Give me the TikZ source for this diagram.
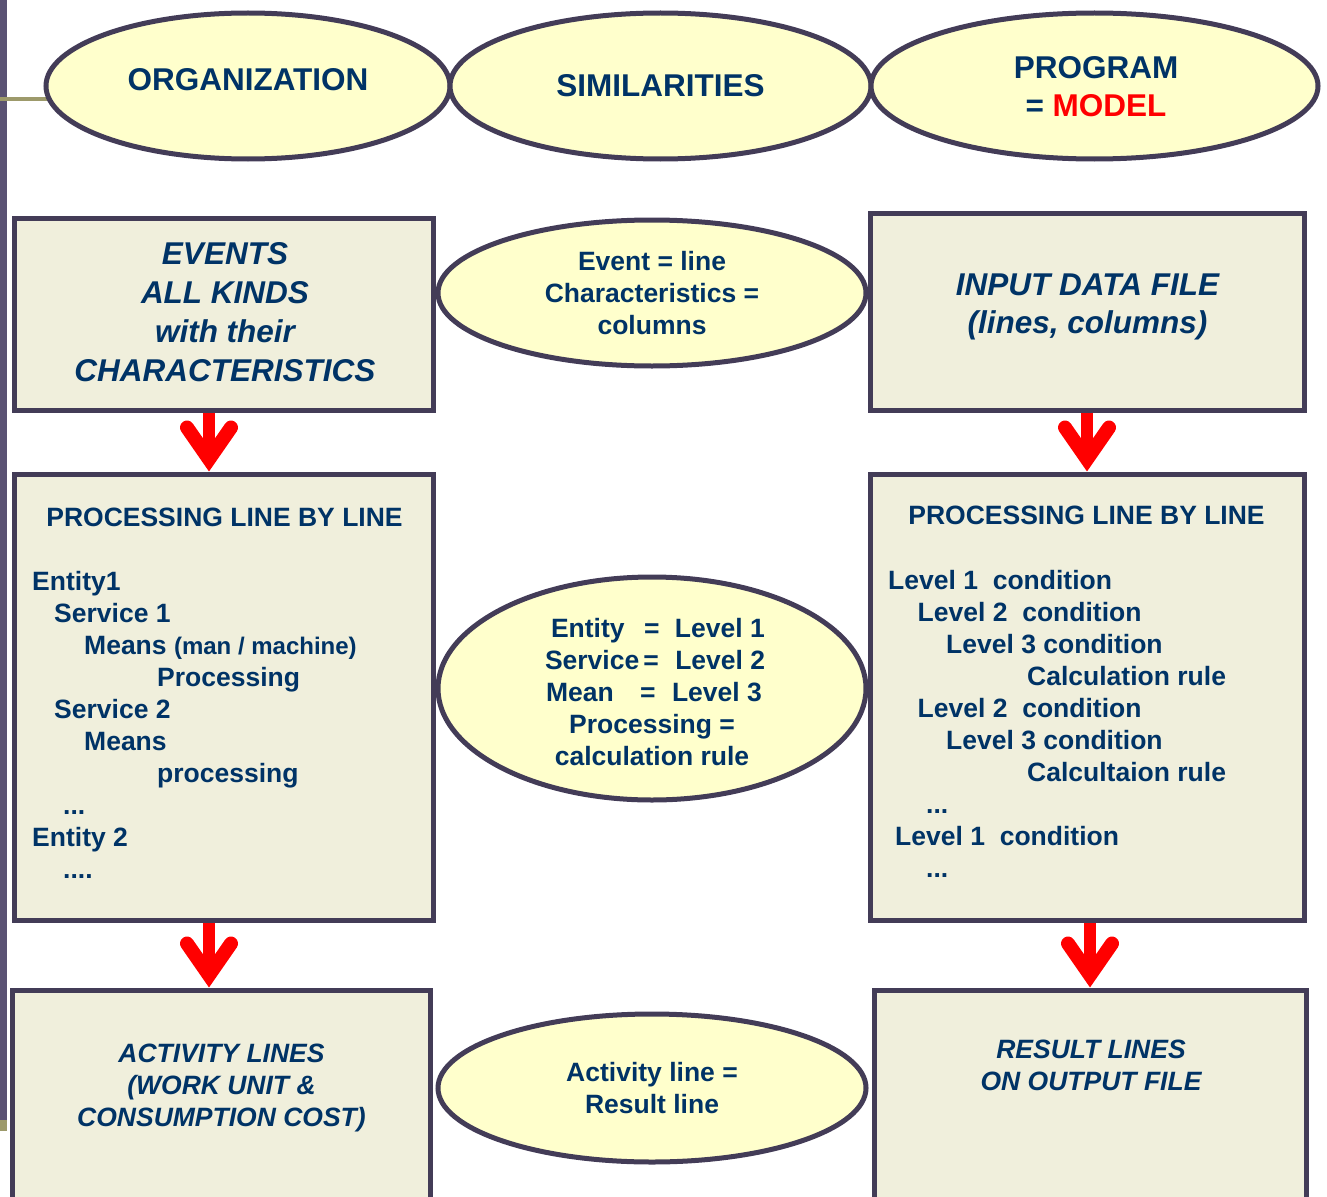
\documentclass[tikz,border=0pt]{standalone}
\usepackage{fontspec}
\setmainfont{Liberation Sans}
\usetikzlibrary{shapes.geometric,backgrounds}

\definecolor{navy}{HTML}{003366}
\definecolor{frame}{HTML}{433C57}
\definecolor{boxfill}{HTML}{F0EFDC}
\definecolor{ovalfill}{HTML}{FFFFCC}
\definecolor{sidebar}{HTML}{5A5273}
\definecolor{olivegreen}{HTML}{9D9A6B}
\definecolor{flowred}{HTML}{FF0000}

\tikzset{
  box/.style={draw=frame, fill=boxfill, line width=5pt, rectangle, inner sep=0pt},
  oval/.style={draw=frame, fill=ovalfill, line width=5pt, ellipse, inner sep=0pt},
  % multi-line texts are placed by the baseline of their last line
  txtbig/.style={text=navy, inner sep=0pt, align=center, anchor=base,
    font=\fontsize{31.5pt}{38.7pt}\selectfont\bfseries},
  txtbigit/.style={txtbig, font=\fontsize{31.5pt}{38.7pt}\selectfont\bfseries\itshape},
  txtbody/.style={text=navy, inner sep=0pt, align=center, anchor=base,
    font=\fontsize{26.5pt}{32pt}\selectfont\bfseries},
  txtbodyit/.style={txtbody, font=\fontsize{26.5pt}{32pt}\selectfont\bfseries\itshape},
  txtlist/.style={txtbody, align=left, anchor=base west},
  redshaft/.style={draw=flowred, line width=12pt},
  redhead/.style={draw=flowred, line width=14pt, line cap=round, line join=miter},
}

% thick red down arrow with a round-ended chevron head
\newcommand\flowarrow[2]{%
  \draw[redshaft] (#1) -- ([yshift=14pt]#2);
  \draw[redhead] ([shift={(-22pt,44pt)}]#2) -- ([yshift=12.3pt]#2) -- ([shift={(22pt,44pt)}]#2);%
}

\begin{document}
\begin{tikzpicture}[x=1pt, y=-1pt]
\useasboundingbox (0,0) rectangle (1327,1196);
\clip (0,0) rectangle (1327,1196);

% header ovals
\node[oval, minimum width=404pt, minimum height=146pt] (org) at (248,86) {};
\node[oval, minimum width=421pt, minimum height=146pt] (sim) at (660.5,86) {};
\node[oval, minimum width=447pt, minimum height=146pt] (prog) at (1094.5,86) {};

% side bar and rule
\begin{scope}[on background layer]
  \fill[sidebar] (0,0) rectangle (7,1120);
  \fill[olivegreen] (0,1120) rectangle (7,1131);
  \coordinate (rulestart) at (0,99);
  \draw[olivegreen, line width=4pt] (rulestart) -- (org.center |- rulestart);
\end{scope}

% boxes
\node[box, minimum width=419pt, minimum height=192pt] (evt) at (223.5,314) {};
\node[box, minimum width=434pt, minimum height=197pt] (inp) at (1087,311.5) {};
\node[box, minimum width=419pt, minimum height=446pt] (procL) at (223.5,697) {};
\node[box, minimum width=434pt, minimum height=446pt] (procR) at (1087,697) {};
\node[box, minimum width=418pt, minimum height=230pt] (actL) at (221,1105) {};
\node[box, minimum width=432pt, minimum height=230pt] (resR) at (1090,1105) {};

% middle ovals
\node[oval, minimum width=428pt, minimum height=146pt] (evl) at (652,293) {};
\node[oval, minimum width=428pt, minimum height=223pt] (ent) at (652,688.5) {};
\node[oval, minimum width=428pt, minimum height=148pt] (act) at (652,1088) {};

% header texts
\node[txtbig] (orgT) at (248,91) {ORGANIZATION};
\node[txtbig] (simT) at (660.5,97) {SIMILARITIES};
\node[txtbig] (progT) at (1096,117) {PROGRAM\\= \textcolor{flowred}{MODEL}};

% second row
\node[txtbigit] (evtT) at (225,381) {EVENTS\\ALL KINDS\\with their\\CHARACTERISTICS};
\node[txtbody] (evlT) at (652,334.5) {Event = line\\Characteristics =\\columns};
\node[txtbigit, font=\fontsize{31.5pt}{38pt}\selectfont\bfseries\itshape] (inpT) at (1087.5,333) {INPUT DATA FILE\\(lines, columns)};

% third row
\node[txtbody] (procLT) at (224.5,526.5) {PROCESSING LINE BY LINE};
\node[txtlist] (procLL) at (32,878.5) {Entity1\\
\hspace*{22pt}Service 1\\
\hspace*{52pt}Means {\fontsize{24pt}{32pt}\selectfont(man / machine)}\\
\hspace*{125pt}Processing\\
\hspace*{22pt}Service 2\\
\hspace*{52pt}Means\\
\hspace*{125pt}processing\\
\hspace*{31pt}...\\
Entity 2\\
\hspace*{31pt}....};

\node[txtbody] (entT) at (652,765.5) {%
\makebox[214pt][l]{\hspace*{6pt}Entity\hspace{19.4pt}=\hspace{15.5pt}Level 1}\\
\makebox[214pt][l]{Service\hspace{4pt}=\hspace{16.5pt}Level 2}\\
\makebox[214pt][l]{\hspace*{1pt}Mean\hspace{26.3pt}=\hspace{16.5pt}Level 3}\\
Processing =\\
calculation rule};

\node[txtbody] (procRT) at (1086.5,524.5) {PROCESSING LINE BY LINE};
\node[txtlist] (procRL) at (888,877) {Level 1~~condition\\
\hspace*{29.5pt}Level 2~~condition\\
\hspace*{58pt}Level 3 condition\\
\hspace*{139pt}Calculation rule\\
\hspace*{29.5pt}Level 2~~condition\\
\hspace*{58pt}Level 3 condition\\
\hspace*{139pt}Calcultaion rule\\
\hspace*{38pt}...\\
\hspace*{7pt}Level 1~~condition\\
\hspace*{38pt}...};

% bottom row
\node[txtbodyit] (actLT) at (221.5,1126.5) {ACTIVITY LINES\\(WORK UNIT \&\\CONSUMPTION COST)};
\node[txtbody] (actT) at (652,1113.5) {Activity line =\\Result line};
\node[txtbodyit] (resRT) at (1091,1090.5) {RESULT LINES\\ON OUTPUT FILE};

% flow arrows
\coordinate (a1s) at ([xshift=-14.5pt]evt.south);
\coordinate (a1t) at (a1s |- procL.north);
\flowarrow{a1s}{a1t}
\coordinate (a2s) at (inp.south);
\coordinate (a2t) at (a2s |- procR.north);
\flowarrow{a2s}{a2t}
\coordinate (a3s) at ([xshift=-14.5pt]procL.south);
\coordinate (a3t) at (a3s |- actL.north);
\flowarrow{a3s}{a3t}
\coordinate (a4s) at ([xshift=3pt]procR.south);
\coordinate (a4t) at (a4s |- resR.north);
\flowarrow{a4s}{a4t}
\end{tikzpicture}
\end{document}
